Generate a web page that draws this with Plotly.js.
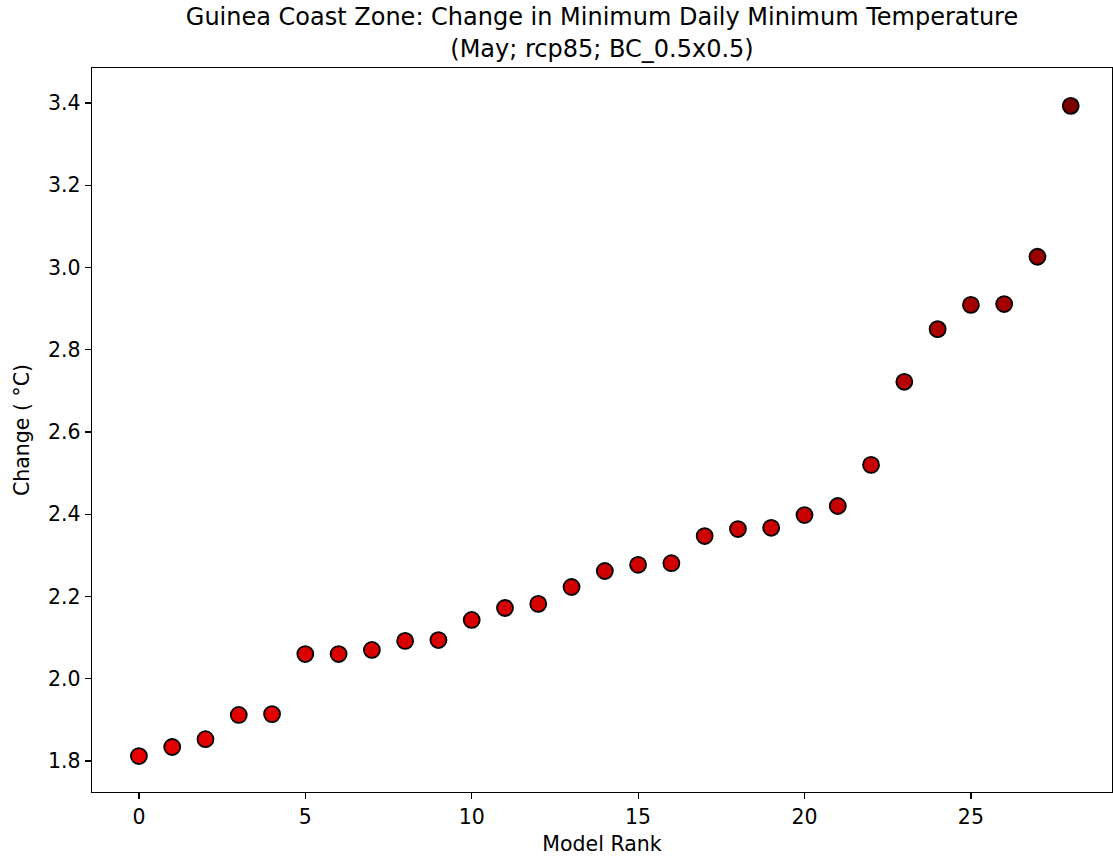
<!DOCTYPE html>
<html>
<head>
<meta charset="utf-8">
<script src="https://cdn.plot.ly/plotly-3.0.1.min.js"></script>
<style>html,body{margin:0;padding:0;background:#fff;}#chart{width:1113px;height:861px;}</style>
</head>
<body>
<div id="chart"></div>
<script>
const modelRank = [0,1,2,3,4,5,6,7,8,9,10,11,12,13,14,15,16,17,18,19,20,21,22,23,24,25,26,27,28];
const change = [1.812,1.834,1.853,1.912,1.914,2.060,2.060,2.070,2.092,2.094,2.143,2.172,2.182,2.223,2.262,2.277,2.281,2.347,2.364,2.367,2.398,2.420,2.520,2.722,2.850,2.909,2.911,3.026,3.393];
const xTicks = [0,5,10,15,20,25];
const yTicks = [1.8,2.0,2.2,2.4,2.6,2.8,3.0,3.2,3.4];
const yTickText = ["1.8","2.0","2.2","2.4","2.6","2.8","3.0","3.2","3.4"];
const fontFam = "DejaVu Sans, sans-serif";

const trace = {
  x: modelRank, y: change, mode: "markers", type: "scatter",
  marker: {
    size: 16,
    color: change,
    cmin: 1.812, cmax: 3.393,
    colorscale: [[0, "#e60000"], [0.5, "#c00000"], [1, "#7a0000"]],
    showscale: false,
    line: {color: "#000", width: 1.8}
  },
  hoverinfo: "x+y"
};

const layout = {
  width: 1113, height: 861,
  margin: {l: 92, r: 1, t: 68, b: 69},
  paper_bgcolor: "#fff", plot_bgcolor: "#fff",
  showlegend: false,
  font: {family: fontFam, color: "#000", size: 20},
  title: {
    text: "Guinea Coast Zone: Change in Minimum Daily Minimum Temperature<br>(May; rcp85; BC_0.5x0.5)",
    font: {family: fontFam, size: 24, color: "#000"},
    x: 0.5, xanchor: "center", xref: "paper",
    y: 0.9705, yanchor: "middle", yref: "container"
  },
  xaxis: {
    range: [-1.41, 29.24],
    tickvals: xTicks, ticktext: xTicks.map(String),
    ticks: "outside", ticklen: 6, tickwidth: 1.2, tickcolor: "#000",
    showline: true, linecolor: "#000", linewidth: 1.4, mirror: true,
    showgrid: false, zeroline: false,
    tickfont: {family: fontFam, size: 20.5},
    title: {text: "Model Rank", font: {family: fontFam, size: 20.5}, standoff: 8}
  },
  yaxis: {
    range: [1.7246, 3.485],
    tickvals: yTicks, ticktext: yTickText,
    ticks: "outside", ticklen: 6, tickwidth: 1.2, tickcolor: "#000",
    showline: true, linecolor: "#000", linewidth: 1.4, mirror: true,
    showgrid: false, zeroline: false,
    tickfont: {family: fontFam, size: 20.5},
    title: {text: "Change ( °C)", font: {family: fontFam, size: 20.5}, standoff: 12}
  }
};

Plotly.newPlot("chart", [trace], layout, {displayModeBar: false, staticPlot: true});
</script>
</body>
</html>
